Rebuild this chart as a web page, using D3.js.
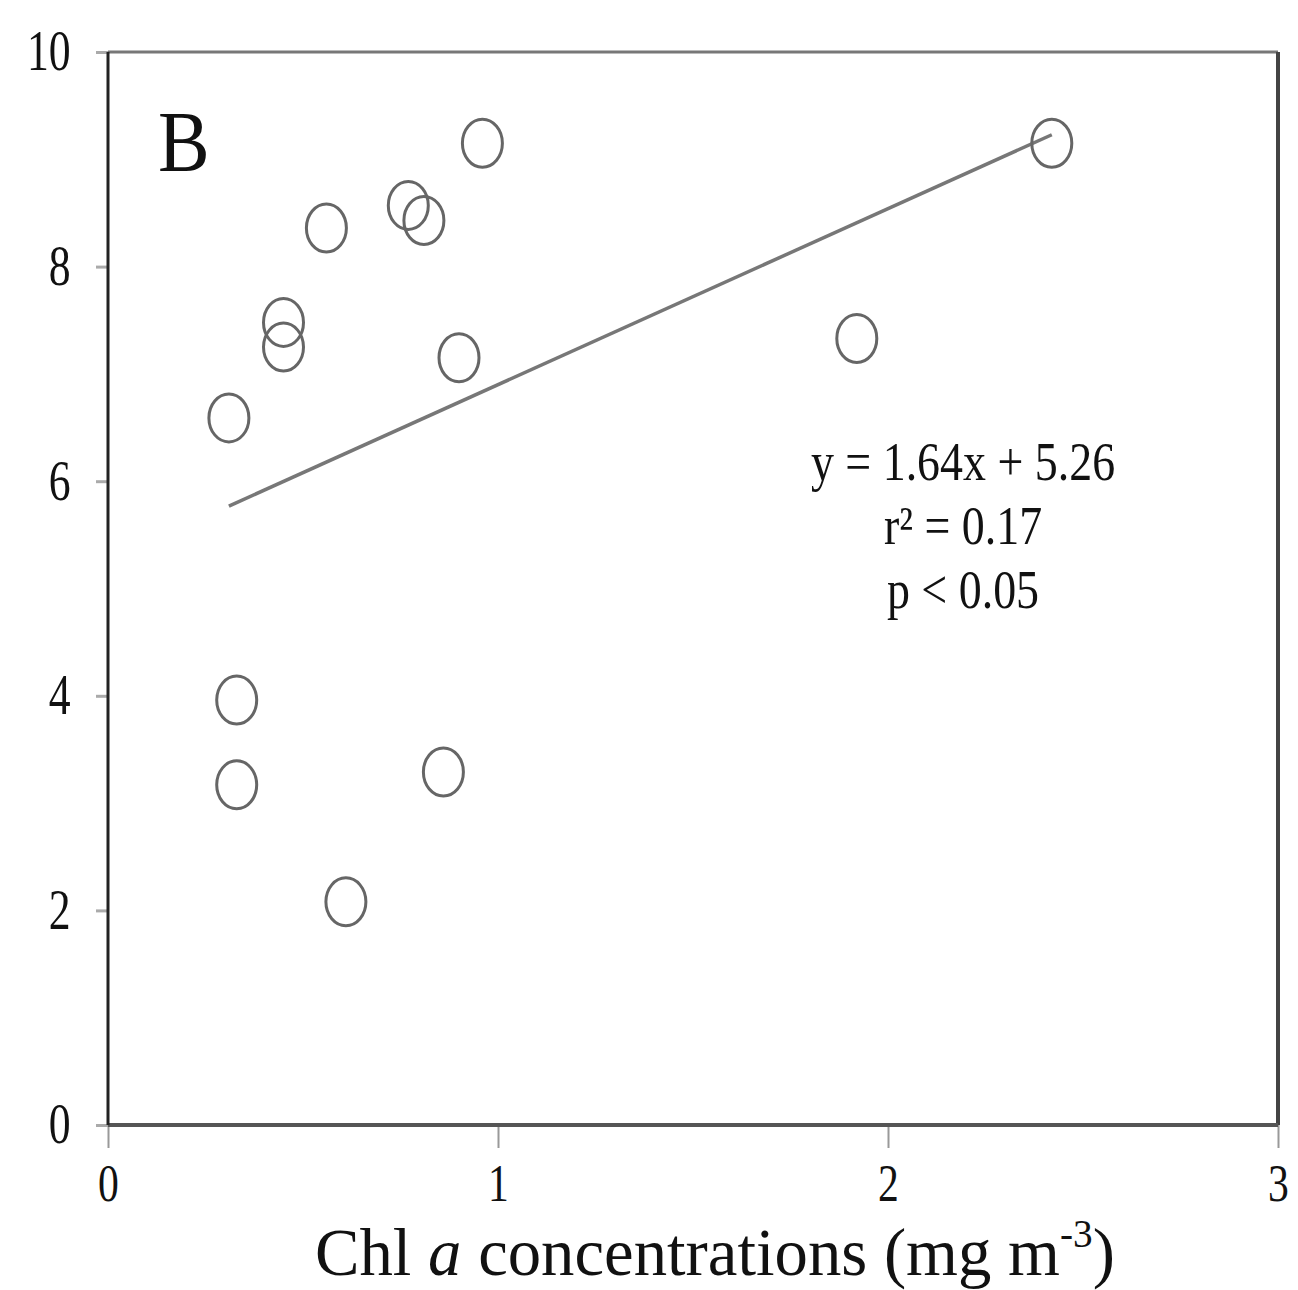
<!DOCTYPE html>
<html>
<head>
<meta charset="utf-8">
<script src="https://cdn.jsdelivr.net/npm/d3@7"></script>
<style>
  body { margin: 0; background: #fff; }
  svg text { font-family: "Liberation Serif", "DejaVu Serif", serif; fill: #111; }
</style>
</head>
<body>
<div id="chart"></div>
<script>
// values (x = Chl a, y = response)
var chlA = [0.96, 2.42, 0.56, 0.77, 0.81, 0.45, 0.45, 0.31, 0.90, 1.92, 0.33, 0.33, 0.86, 0.61];
var yVal = [9.15, 9.15, 8.36, 8.57, 8.43, 7.48, 7.25, 6.59, 7.15, 7.33, 3.96, 3.17, 3.29, 2.08];
var xTicks = [0, 1, 2, 3];
var yTicks = [0, 2, 4, 6, 8, 10];
var slope = 1.64, intercept = 5.26;
var statLines = ["y = 1.64x + 5.26", "r\u00b2 = 0.17", "p < 0.05"];

var W = 1298, H = 1290;
var margin = { top: 52, right: 20, bottom: 165, left: 108 };
var width = W - margin.left - margin.right,
    height = H - margin.top - margin.bottom;

var svg = d3.select('#chart').append('svg')
    .attr('width', W)
    .attr('height', H);

var g = svg.append('g')
    .attr('transform', 'translate(' + margin.left + ',' + margin.top + ')');

var x = d3.scaleLinear().domain([0, 3]).range([0, width]);
var y = d3.scaleLinear().domain([0, 10]).range([height, 0]);

// axes
var yAxis = g.append('g')
    .call(d3.axisLeft(y).tickValues(yTicks).tickSize(12).tickPadding(36).tickFormat(d3.format('d')));
yAxis.select('.domain').remove();
yAxis.selectAll('line').attr('stroke', '#aaa').attr('stroke-width', 3);
yAxis.selectAll('text')
    .attr('font-size', 56)
    .attr('transform', 'scale(0.78,1)');

var xAxis = g.append('g')
    .attr('transform', 'translate(0,' + height + ')')
    .call(d3.axisBottom(x).tickValues(xTicks).tickSize(23).tickPadding(16).tickFormat(d3.format('d')));
xAxis.select('.domain').remove();
xAxis.selectAll('line').attr('stroke', '#999').attr('stroke-width', 2);
xAxis.selectAll('text')
    .attr('font-size', 52)
    .attr('transform', 'scale(0.8,1)');

// frame
g.append('line').attr('x1', 0).attr('x2', width).attr('y1', 0).attr('y2', 0)
    .attr('stroke', '#777').attr('stroke-width', 3);
g.append('line').attr('x1', width).attr('x2', width).attr('y1', 0).attr('y2', height)
    .attr('stroke', '#444').attr('stroke-width', 4);
g.append('line').attr('x1', 0).attr('x2', width).attr('y1', height).attr('y2', height)
    .attr('stroke', '#555').attr('stroke-width', 4);
g.append('line').attr('x1', 0).attr('x2', 0).attr('y1', 0).attr('y2', height)
    .attr('stroke', '#222').attr('stroke-width', 3);

// regression line over the data range
var xr = d3.extent(chlA);
g.append('line')
    .attr('x1', x(xr[0])).attr('y1', y(slope * xr[0] + intercept))
    .attr('x2', x(xr[1])).attr('y2', y(slope * xr[1] + intercept))
    .attr('stroke', '#777').attr('stroke-width', 3.5);

// points
g.selectAll('.pt')
    .data(d3.range(chlA.length))
    .enter()
    .append('ellipse')
    .attr('class', 'pt')
    .attr('cx', i => x(chlA[i]))
    .attr('cy', i => y(yVal[i]))
    .attr('rx', 20)
    .attr('ry', 24)
    .attr('fill', 'none')
    .attr('stroke', '#666')
    .attr('stroke-width', 3);

// panel letter
svg.append('text')
    .attr('transform', 'translate(158,171) scale(0.9,1)')
    .attr('font-size', 86)
    .text('B');

// stats text
var st = svg.append('g').attr('transform', 'translate(963,0)');
st.selectAll('text')
    .data(statLines)
    .enter()
    .append('text')
    .attr('transform', (d, i) => 'translate(0,' + (480 + i * 64) + ') scale(0.85,1)')
    .attr('text-anchor', 'middle')
    .attr('font-size', 54)
    .text(d => d);

// x axis title, squeezed to the width seen in the figure
var title = svg.append('text')
    .attr('font-size', 68);
title.append('tspan').text('Chl ');
title.append('tspan').attr('font-style', 'italic').text('a');
title.append('tspan').text(' concentrations (mg m');
title.append('tspan').attr('font-size', 40).attr('dy', -28).text('-3');
title.append('tspan').attr('dy', 28).text(')');
var tw = title.node().getBBox().width;
title.attr('transform', 'translate(315,1275) scale(' + (800 / tw) + ',1)');
</script>
</body>
</html>
